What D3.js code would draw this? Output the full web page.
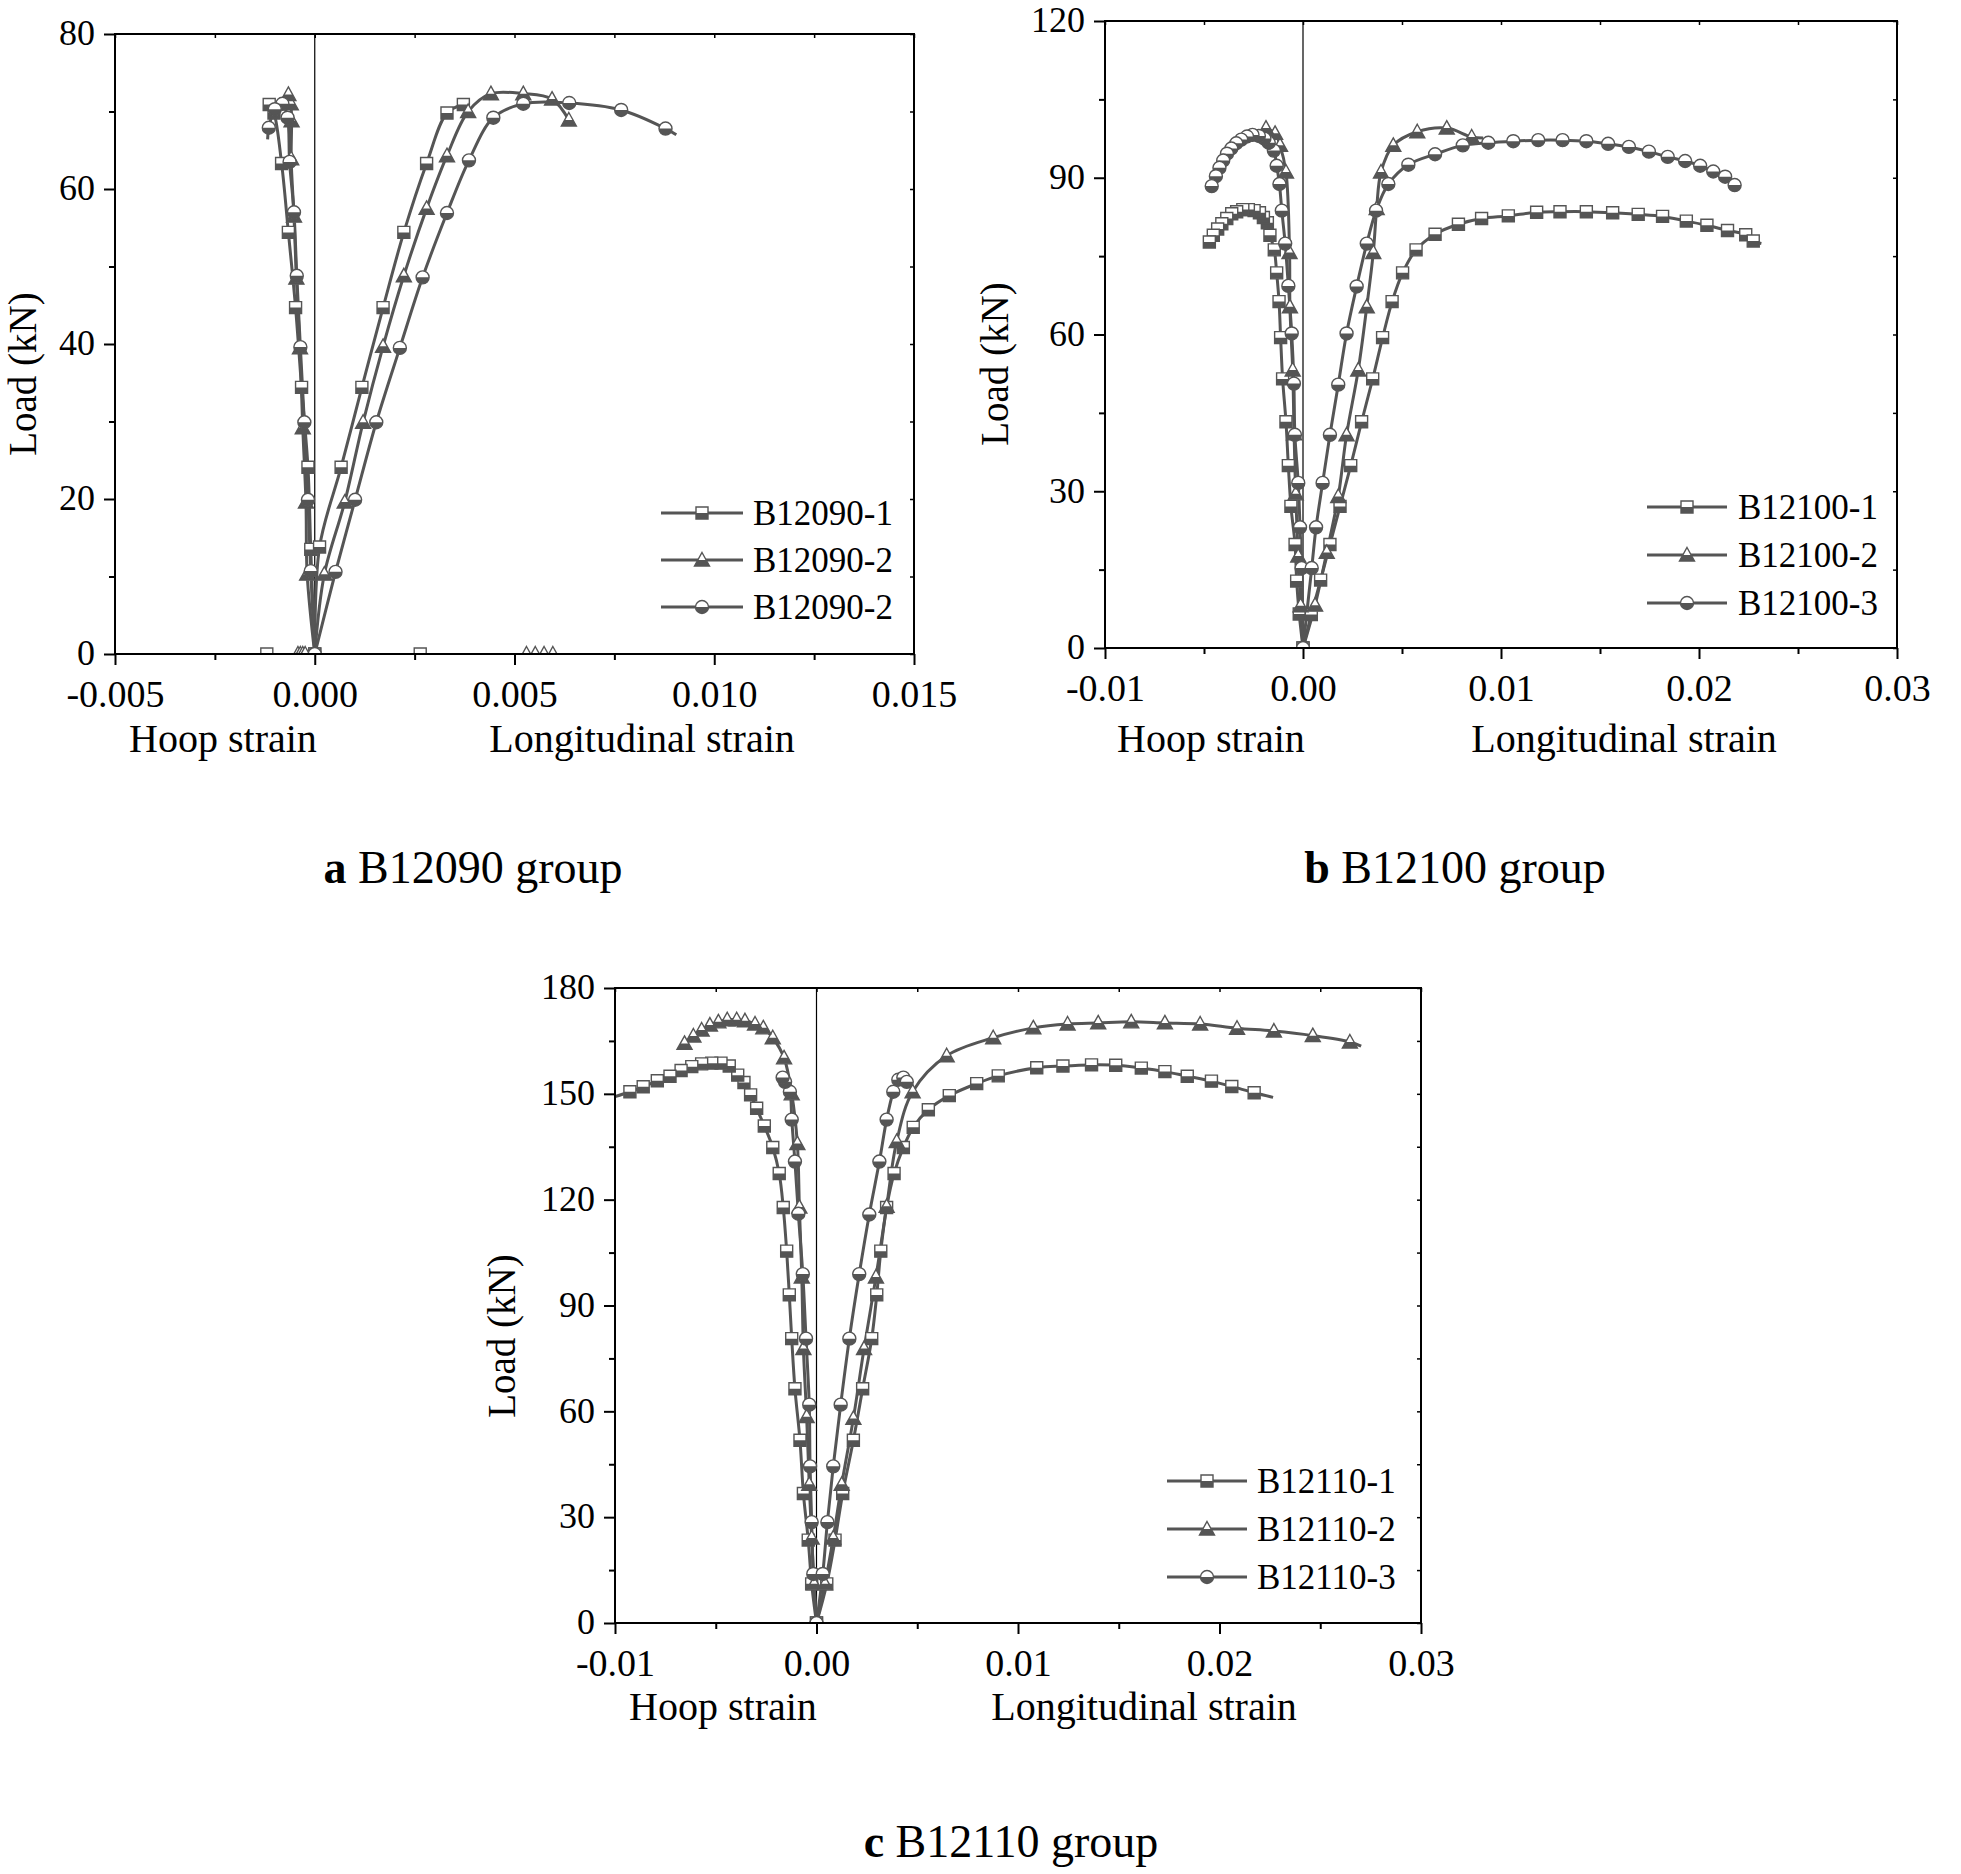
<!DOCTYPE html>
<html><head><meta charset="utf-8">
<script src="https://cdn.jsdelivr.net/npm/d3@7"></script>
<style>html,body{margin:0;padding:0;background:#fff;} svg{display:block;}</style>
</head><body>
<svg id="chart" width="1961" height="1874"></svg>
<script>
// ---------------- DATA (strain, load kN) ----------------
// Panel a: B12090 group
const a1Hoop = [[0,0],[-0.0001,13.5],[-0.00017,24.1],[-0.00033,34.4],[-0.00048,44.7],[-0.00066,54.4],[-0.00083,63.3],[-0.00102,69.8],[-0.00114,70.9]];
const a1Long = [[0,0],[0.00012,13.8],[0.00066,24.1],[0.00118,34.4],[0.00171,44.7],[0.00223,54.4],[0.0028,63.3],[0.00331,69.8],[0.00372,70.9]];
const a2Hoop = [[0,0],[-0.00019,10.3],[-0.00022,19.6],[-0.0003,29.2],[-0.00037,39.5],[-0.00046,48.5],[-0.00052,56.5],[-0.00059,63.9],[-0.00058,68.8],[-0.0006,71.0],[-0.00066,72.2]];
const a2Long = [[0,0],[0.00024,10.3],[0.00075,19.6],[0.00121,29.9],[0.00171,39.7],[0.00223,48.8],[0.0028,57.5],[0.00331,64.3],[0.00384,70.0],[0.00441,72.3],[0.00522,72.3],[0.00594,71.6],[0.00636,68.9]];
const a3Hoop = [[0,0],[-0.0001,10.7],[-0.00017,19.9],[-0.00026,29.9],[-0.00036,39.6],[-0.00045,48.8],[-0.00052,57.0],[-0.00063,63.5],[-0.00068,69.2],[-0.00081,71.0],[-0.001,70.3],[-0.00115,67.9]];
const a3Long = [[0,0],[0.00052,10.6],[0.00101,19.9],[0.00154,29.9],[0.00213,39.5],[0.0027,48.6],[0.00331,56.9],[0.00386,63.7],[0.00447,69.2],[0.00522,71.0],[0.00637,71.1],[0.00767,70.2],[0.00878,67.8]];
const a3LongEnd = [0.00905,67.0];
const a3HoopEnd = [-0.00118,66.4];
const aZeroSquares = [-0.0012, 0.00264];
const aZeroTriangles = [-0.00042,-0.00036,-0.0003,-0.00024,0.0053,0.00552,0.00574,0.00596];

// Panel b: B12100 group
const b1Hoop = [[0,0],[-0.00019,6.5],[-0.00032,12.8],[-0.0004,19.8],[-0.00061,27.1],[-0.00074,34.9],[-0.00086,43.3],[-0.00103,51.5],[-0.00113,59.4],[-0.00121,66.3],[-0.00133,71.8],[-0.00145,76.2],[-0.00167,79.0],[-0.0018,81.4],[-0.002,82.4],[-0.0022,83.3],[-0.00247,83.7],[-0.00276,83.9],[-0.00304,83.9],[-0.00335,83.5],[-0.0036,83.1],[-0.00385,82.2],[-0.0041,81.2],[-0.00431,80.2],[-0.00453,79.0],[-0.00473,77.7]];
const b1Long = [[0,0],[0.00042,6.4],[0.00089,13.0],[0.00136,19.8],[0.00187,27.1],[0.00241,34.9],[0.00296,43.3],[0.00352,51.5],[0.00402,59.4],[0.0045,66.3],[0.00503,71.8],[0.00571,76.2],[0.00667,79.2],[0.00785,81.1],[0.00902,82.2],[0.01037,82.7],[0.0118,83.4],[0.01298,83.5],[0.01431,83.5],[0.01564,83.3],[0.01693,83.0],[0.01816,82.6],[0.01936,81.7],[0.0204,80.9],[0.02144,79.9],[0.02236,79.1],[0.02274,77.9]];
const b1LongEnd = [0.02315,77.4];
const b2Hoop = [[0,0],[-0.00012,8.1],[-0.00024,17.6],[-0.00037,29.5],[-0.00045,41.0],[-0.00052,53.2],[-0.00066,65.3],[-0.00068,75.7],[-0.00086,91.1],[-0.00116,96.2],[-0.00141,98.5],[-0.00187,99.5]];
const b2Long = [[0,0],[0.00061,8.2],[0.0012,18.3],[0.00178,29.0],[0.0022,40.8],[0.00279,53.2],[0.00322,65.3],[0.00355,75.7],[0.00372,84.1],[0.00394,91.1],[0.00456,96.2],[0.00577,98.8],[0.00726,99.5],[0.00852,97.8]];
const b2LongEnd = [0.0091,97.6];
const b3Hoop = [[0,0],[-0.00007,15.3],[-0.00015,23.1],[-0.00024,31.6],[-0.00041,40.8],[-0.00046,50.6],[-0.00057,60.2],[-0.00074,69.3],[-0.0009,77.4],[-0.00107,83.7],[-0.00119,88.8],[-0.00133,92.3],[-0.00147,95.2],[-0.00173,96.7],[-0.00195,97.5],[-0.00223,98.0],[-0.00255,98.2],[-0.00283,97.9],[-0.00312,97.3],[-0.00337,96.6],[-0.00362,95.6],[-0.00384,94.6],[-0.00403,93.3],[-0.00422,91.9],[-0.0044,90.3],[-0.00461,88.4]];
const b3Long = [[0,0],[0.00044,15.3],[0.00066,23.1],[0.00099,31.6],[0.00136,40.8],[0.00178,50.4],[0.0022,60.2],[0.00271,69.2],[0.00322,77.4],[0.00369,83.7],[0.00431,88.8],[0.00532,92.5],[0.00667,94.5],[0.00807,96.2],[0.00936,96.7],[0.01062,97.0],[0.01188,97.2],[0.01311,97.2],[0.01431,97.0],[0.01541,96.5],[0.01646,95.9],[0.01747,95.0],[0.01842,94.0],[0.0193,93.2],[0.02006,92.3],[0.02072,91.2],[0.02132,90.2],[0.0218,88.6]];

// Panel c: B12110 group
const c1Hoop = [[0,0],[-0.00024,11.1],[-0.00041,23.5],[-0.00065,36.7],[-0.00082,51.8],[-0.00107,66.4],[-0.00123,80.6],[-0.00135,93.0],[-0.00148,105.4],[-0.00165,117.8],[-0.00185,127.4],[-0.00217,134.8],[-0.00259,140.9],[-0.00297,145.9],[-0.00327,149.7],[-0.0036,153.2],[-0.00391,155.3],[-0.00433,157.9],[-0.00474,158.7],[-0.0052,158.7],[-0.0057,158.5],[-0.00619,157.7],[-0.00672,156.6],[-0.00727,155.0],[-0.0079,153.7],[-0.0086,152.0],[-0.00926,150.6]];
const c1HoopEnd = [-0.01,149.2];
const c1Long = [[0,0],[0.00051,11.1],[0.00092,23.5],[0.0013,36.7],[0.00183,51.8],[0.00229,66.4],[0.00274,80.6],[0.00299,93.0],[0.00319,105.4],[0.00348,117.8],[0.00385,127.4],[0.00431,134.8],[0.0048,140.5],[0.00555,145.5],[0.00659,149.5],[0.00795,152.9],[0.00902,155.1],[0.01093,157.4],[0.01223,157.9],[0.01365,158.2],[0.01485,158.1],[0.01612,157.3],[0.01729,156.3],[0.0184,155.0],[0.0196,153.6],[0.02061,152.1],[0.02172,150.3]];
const c1LongEnd = [0.02266,149.0];
const c2Hoop = [[0,0],[-0.00012,11.1],[-0.00024,24.1],[-0.00036,39.3],[-0.00049,58.5],[-0.00065,77.8],[-0.00073,98.1],[-0.00085,117.9],[-0.00095,135.9],[-0.00123,150.0],[-0.00161,160.2],[-0.00217,165.9],[-0.00264,168.7],[-0.00305,169.8],[-0.00355,170.7],[-0.00396,171.0],[-0.00443,171.0],[-0.00487,170.4],[-0.00529,169.5],[-0.0057,168.1],[-0.00611,166.4],[-0.00655,164.3]];
const c2Long = [[0,0],[0.00042,11.1],[0.00083,24.1],[0.00125,39.3],[0.00183,58.0],[0.00236,77.8],[0.00295,98.1],[0.00348,118.1],[0.00398,136.5],[0.00477,150.6],[0.00646,160.8],[0.00877,165.9],[0.01076,168.7],[0.01246,169.8],[0.01398,170.1],[0.01562,170.4],[0.01729,170.1],[0.01904,169.8],[0.02087,168.6],[0.0227,167.8],[0.02463,166.5],[0.02647,164.7]];
const c2LongEnd = [0.02703,163.5];
const c3Hoop = [[0,0],[-0.00016,13.9],[-0.00024,28.6],[-0.00032,44.4],[-0.00036,61.9],[-0.00052,80.6],[-0.00068,98.9],[-0.0009,116.0],[-0.00107,130.8],[-0.00123,142.7],[-0.00132,150.6],[-0.00156,153.4],[-0.00168,154.6]];
const c3Long = [[0,0],[0.00031,13.9],[0.00054,28.6],[0.00083,44.4],[0.0012,61.9],[0.00163,80.6],[0.00212,98.9],[0.00262,115.8],[0.00312,130.8],[0.00348,142.7],[0.00381,150.6],[0.00406,154.0],[0.00431,154.6],[0.00448,153.4]];

// Ticks and labels
const aXTicks = [-0.005, 0, 0.005, 0.01, 0.015];
const aXTickLabels = ["-0.005", "0.000", "0.005", "0.010", "0.015"];
const aYTicks = [0, 20, 40, 60, 80];
const bcXTicks = [-0.01, 0, 0.01, 0.02, 0.03];
const bcXTickLabels = ["-0.01", "0.00", "0.01", "0.02", "0.03"];
const bYTicks = [0, 30, 60, 90, 120];
const cYTicks = [0, 30, 60, 90, 120, 150, 180];
const aLegend = ["B12090-1", "B12090-2", "B12090-2"];
const bLegend = ["B12100-1", "B12100-2", "B12100-3"];
const cLegend = ["B12110-1", "B12110-2", "B12110-3"];
const markerTypes = ["square", "triangle", "circle"];

// ---------------- DRAWING ----------------
const svg = d3.select('#chart');
const FONT = '"Liberation Serif","Times New Roman",Times,serif';
const GRAY = '#555555';
svg.append('rect').attr('width', 1961).attr('height', 1874).attr('fill', '#fff');
const defs = svg.append('defs');
defs.append('clipPath').attr('id', 'lowerHalf')
  .append('rect').attr('x', -20).attr('y', 0).attr('width', 40).attr('height', 20);

const shapes = {
  square: 'M-6,-6H6V6H-6Z',
  triangle: 'M0,-7.5L7.5,6L-7.5,6Z',
  circle: 'M-6.5,0A6.5,6.5 0 1,0 6.5,0A6.5,6.5 0 1,0 -6.5,0Z'
};

function marker(g, type, px, py) {
  const m = g.append('g').attr('transform', `translate(${px},${py})`);
  m.append('path').attr('d', shapes[type]).attr('fill', '#fff');
  m.append('path').attr('d', shapes[type]).attr('fill', GRAY).attr('clip-path', 'url(#lowerHalf)');
  m.append('path').attr('d', shapes[type]).attr('fill', 'none').attr('stroke', GRAY).attr('stroke-width', 1.4);
}

function drawPanel(p) {
  const g = svg.append('g');
  const x = d3.scaleLinear().domain(p.xDomain).range([p.left, p.right]);
  const y = d3.scaleLinear().domain(p.yDomain).range([p.bottom, p.top]);
  const clipId = 'clip-' + p.id;
  defs.append('clipPath').attr('id', clipId).append('rect')
    .attr('x', p.left).attr('y', p.top).attr('width', p.right - p.left).attr('height', p.bottom - p.top);

  // zero line
  g.append('line').attr('x1', x(0)).attr('x2', x(0)).attr('y1', p.top).attr('y2', p.bottom)
    .attr('stroke', '#000').attr('stroke-width', 1.2);

  const plot = g.append('g').attr('clip-path', `url(#${clipId})`);
  const line = d3.line().x(d => x(d[0])).y(d => y(d[1])).curve(d3.curveCatmullRom.alpha(0.5));

  p.series.forEach(s => {
    [[s.hoop, s.hoopEnd], [s.long, s.longEnd]].forEach(([pts, end]) => {
      const all = end ? pts.concat([end]) : pts;
      plot.append('path').attr('d', line(all)).attr('fill', 'none')
        .attr('stroke', GRAY).attr('stroke-width', 3).attr('stroke-linejoin', 'round');
    });
  });
  p.series.forEach(s => {
    s.hoop.concat(s.long).forEach(d => marker(plot, s.type, x(d[0]), y(d[1])));
    (s.zeros || []).forEach(v => marker(plot, s.type, x(v), y(0)));
  });

  // axes
  const font = sel => sel.attr('font-family', FONT).attr('fill', '#000');
  const xAx = g.append('g').attr('transform', `translate(0,${p.bottom})`)
    .call(d3.axisBottom(x).tickValues(p.xTicks).tickFormat((d, i) => p.xTickLabels[i]).tickSize(11));
  xAx.select('.domain').remove();
  xAx.selectAll('line').attr('stroke', '#000').attr('stroke-width', 2);
  xAx.selectAll('text').call(font).attr('font-size', 38).attr('y', p.xLabelOff).attr('dy', 0);
  const xMin = g.append('g').attr('transform', `translate(0,${p.bottom})`)
    .call(d3.axisBottom(x).tickValues(p.xMinor).tickFormat('').tickSize(6));
  xMin.select('.domain').remove();
  xMin.selectAll('line').attr('stroke', '#000').attr('stroke-width', 2);

  const yAx = g.append('g').attr('transform', `translate(${p.left},0)`)
    .call(d3.axisLeft(y).tickValues(p.yTicks).tickFormat(d3.format('d')).tickSize(11).tickPadding(9));
  yAx.select('.domain').remove();
  yAx.selectAll('line').attr('stroke', '#000').attr('stroke-width', 2);
  yAx.selectAll('text').call(font).attr('font-size', 36).attr('dy', '0.3em');
  const yMin = g.append('g').attr('transform', `translate(${p.left},0)`)
    .call(d3.axisLeft(y).tickValues(p.yMinor).tickFormat('').tickSize(6));
  yMin.select('.domain').remove();
  yMin.selectAll('line').attr('stroke', '#000').attr('stroke-width', 2);

  // inner ticks on top and right
  const tTop = g.append('g').attr('transform', `translate(0,${p.top})`)
    .call(d3.axisTop(x).tickValues(p.xTicks.concat(p.xMinor)).tickFormat('').tickSize(-4));
  tTop.select('.domain').remove();
  tTop.selectAll('line').attr('stroke', '#000').attr('stroke-width', 1.5);
  const tRight = g.append('g').attr('transform', `translate(${p.right},0)`)
    .call(d3.axisRight(y).tickValues(p.yTicks.concat(p.yMinor)).tickFormat('').tickSize(-4));
  tRight.select('.domain').remove();
  tRight.selectAll('line').attr('stroke', '#000').attr('stroke-width', 1.5);

  // frame
  g.append('rect').attr('x', p.left).attr('y', p.top).attr('width', p.right - p.left).attr('height', p.bottom - p.top)
    .attr('fill', 'none').attr('stroke', '#000').attr('stroke-width', 2);

  // titles
  g.append('text').text('Hoop strain').call(font).attr('font-size', 40).attr('text-anchor', 'middle')
    .attr('x', p.hoopX).attr('y', p.titleY);
  g.append('text').text('Longitudinal strain').call(font).attr('font-size', 40).attr('text-anchor', 'middle')
    .attr('x', p.longX).attr('y', p.titleY);
  g.append('text').text('Load (kN)').call(font).attr('font-size', 39).attr('text-anchor', 'middle')
    .attr('transform', `translate(${p.yLabelX},${p.yLabelY}) rotate(-90)`);

  // legend
  p.legendNames.forEach((name, i) => {
    const ry = p.legend.rows[i];
    g.append('line').attr('x1', p.legend.x1).attr('x2', p.legend.x2).attr('y1', ry).attr('y2', ry)
      .attr('stroke', GRAY).attr('stroke-width', 3);
    marker(g, markerTypes[i], (p.legend.x1 + p.legend.x2) / 2, ry);
    g.append('text').text(name).call(font).attr('font-size', 35).attr('x', p.legend.tx).attr('y', ry + 12);
  });

  // caption
  const cap = g.append('text').call(font).attr('font-size', 46).attr('text-anchor', 'middle')
    .attr('x', p.capX).attr('y', p.capY);
  cap.append('tspan').attr('font-weight', 'bold').text(p.capLetter);
  cap.append('tspan').text(' ' + p.capText);
}

drawPanel({
  id: 'a', left: 115, right: 914, top: 34, bottom: 654,
  xDomain: [-0.005, 0.015], yDomain: [0, 80],
  xTicks: aXTicks, xTickLabels: aXTickLabels, xMinor: [-0.0025, 0.0025, 0.0075, 0.0125],
  yTicks: aYTicks, yMinor: [10, 30, 50, 70], xLabelOff: 53,
  series: [
    { type: 'square', hoop: a1Hoop, long: a1Long, zeros: aZeroSquares },
    { type: 'triangle', hoop: a2Hoop, long: a2Long, zeros: aZeroTriangles },
    { type: 'circle', hoop: a3Hoop, long: a3Long, hoopEnd: a3HoopEnd, longEnd: a3LongEnd }
  ],
  hoopX: 223, longX: 642, titleY: 752, yLabelX: 36, yLabelY: 374,
  legendNames: aLegend, legend: { x1: 661, x2: 743, tx: 753, rows: [513, 560, 607] },
  capLetter: 'a', capText: 'B12090 group', capX: 473, capY: 883
});

drawPanel({
  id: 'b', left: 1105, right: 1897, top: 21, bottom: 648,
  xDomain: [-0.01, 0.03], yDomain: [0, 120],
  xTicks: bcXTicks, xTickLabels: bcXTickLabels, xMinor: [-0.005, 0.005, 0.015, 0.025],
  yTicks: bYTicks, yMinor: [15, 45, 75, 105], xLabelOff: 53,
  series: [
    { type: 'square', hoop: b1Hoop, long: b1Long, longEnd: b1LongEnd },
    { type: 'triangle', hoop: b2Hoop, long: b2Long, longEnd: b2LongEnd },
    { type: 'circle', hoop: b3Hoop, long: b3Long }
  ],
  hoopX: 1211, longX: 1624, titleY: 752, yLabelX: 1008, yLabelY: 364,
  legendNames: bLegend, legend: { x1: 1647, x2: 1727, tx: 1738, rows: [507, 555, 603] },
  capLetter: 'b', capText: 'B12100 group', capX: 1455, capY: 883
});

drawPanel({
  id: 'c', left: 615, right: 1421, top: 988, bottom: 1623,
  xDomain: [-0.01, 0.03], yDomain: [0, 180],
  xTicks: bcXTicks, xTickLabels: bcXTickLabels, xMinor: [-0.005, 0.005, 0.015, 0.025],
  yTicks: cYTicks, yMinor: [15, 45, 75, 105, 135, 165], xLabelOff: 53,
  series: [
    { type: 'square', hoop: c1Hoop, long: c1Long, hoopEnd: c1HoopEnd, longEnd: c1LongEnd },
    { type: 'triangle', hoop: c2Hoop, long: c2Long, longEnd: c2LongEnd },
    { type: 'circle', hoop: c3Hoop, long: c3Long }
  ],
  hoopX: 723, longX: 1144, titleY: 1720, yLabelX: 515, yLabelY: 1336,
  legendNames: cLegend, legend: { x1: 1167, x2: 1247, tx: 1257, rows: [1481, 1529, 1577] },
  capLetter: 'c', capText: 'B12110 group', capX: 1011, capY: 1857
});
</script>
</body></html>
